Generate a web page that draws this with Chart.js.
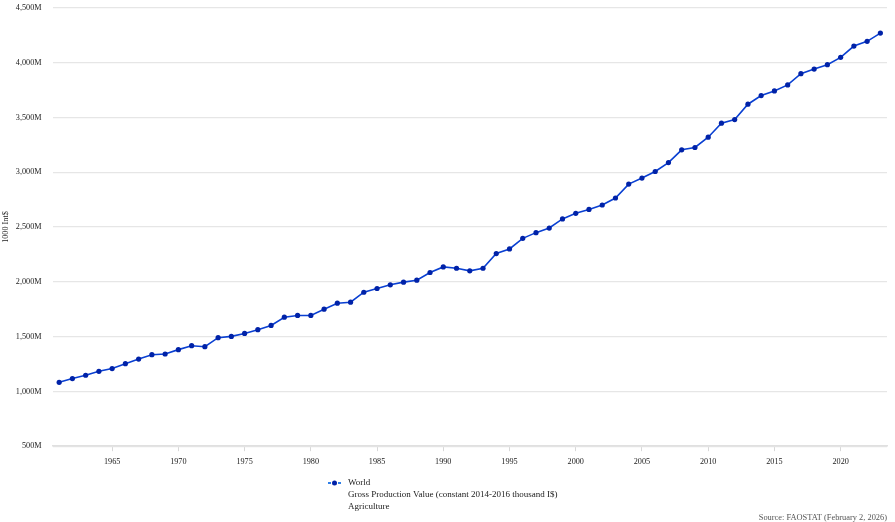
<!DOCTYPE html>
<html>
<head>
<meta charset="utf-8">
<title>Gross Production Value - World</title>
<script src="https://cdn.jsdelivr.net/npm/chart.js@4.4.1/dist/chart.umd.min.js"></script>
<style>
  html, body { margin: 0; padding: 0; background: #fff; }
  #wrap { width: 895px; height: 522px; position: relative; }
</style>
</head>
<body>
<div id="wrap"><canvas id="gpv-chart"></canvas></div>
<script>
// Gross Production Value (constant 2014-2016 thousand I$), World, Agriculture
// valeurs en millions (axe "1000 Int$")

const years = [
  1961, 1962, 1963, 1964, 1965, 1966, 1967, 1968, 1969, 1970,
  1971, 1972, 1973, 1974, 1975, 1976, 1977, 1978, 1979, 1980,
  1981, 1982, 1983, 1984, 1985, 1986, 1987, 1988, 1989, 1990,
  1991, 1992, 1993, 1994, 1995, 1996, 1997, 1998, 1999, 2000,
  2001, 2002, 2003, 2004, 2005, 2006, 2007, 2008, 2009, 2010,
  2011, 2012, 2013, 2014, 2015, 2016, 2017, 2018, 2019, 2020,
  2021, 2022, 2023
];

const worldValues = [
  1083, 1117, 1147, 1183, 1208, 1253, 1295, 1335, 1341, 1381,
  1417, 1408, 1490, 1502, 1529, 1563, 1602, 1677, 1693, 1693,
  1750, 1805, 1814, 1905, 1939, 1973, 1997, 2015, 2085, 2136,
  2124, 2100, 2124, 2258, 2300, 2397, 2449, 2491, 2574, 2625,
  2661, 2701, 2765, 2892, 2947, 3007, 3088, 3205, 3226, 3320,
  3448, 3481, 3621, 3700, 3742, 3797, 3900, 3942, 3982, 4049,
  4152, 4195, 4270
];

const xTickYears = [1965, 1970, 1975, 1980, 1985, 1990, 1995, 2000, 2005, 2010, 2015, 2020];
const yTickValues = [500, 1000, 1500, 2000, 2500, 3000, 3500, 4000, 4500];

const seriesName = 'World';
const legendLines = ['World', 'Gross Production Value (constant 2014-2016 thousand I$)', 'Agriculture'];
const sourceText = 'Source: FAOSTAT (February 2, 2026)';
const yTitle = '1000 Int$';

const FONT = '"Liberation Serif", "Times New Roman", serif';
const LINE_COLOR = '#0a40d2';
const POINT_COLOR = '#0022a8';

// legende + source dessinees sous le graphique
const legendPlugin = {
  id: 'faoLegend',
  afterDraw(chart) {
    const ctx = chart.ctx;
    ctx.save();
    // marqueur
    ctx.strokeStyle = '#2f7fe8';
    ctx.lineWidth = 2;
    ctx.setLineDash([3, 2]);
    ctx.beginPath();
    ctx.moveTo(328, 483);
    ctx.lineTo(341, 483);
    ctx.stroke();
    ctx.setLineDash([]);
    ctx.fillStyle = POINT_COLOR;
    ctx.beginPath();
    ctx.arc(334.5, 483, 2.5, 0, Math.PI * 2);
    ctx.fill();

    ctx.font = '9px ' + FONT;
    ctx.fillStyle = '#222';
    ctx.textAlign = 'left';
    ctx.textBaseline = 'middle';
    legendLines.forEach((line, i) => {
      ctx.fillText(line, 348, 483 + i * 11.7);
    });

    ctx.font = '8.4px ' + FONT;
    ctx.fillStyle = '#555';
    ctx.textAlign = 'right';
    ctx.fillText(sourceText, 887, 518);
    ctx.restore();
  }
};

const chart = new Chart(document.getElementById('gpv-chart'), {
  type: 'line',
  data: {
    datasets: [{
      label: seriesName,
      data: years.map((y, i) => ({ x: y, y: worldValues[i] })),
      borderColor: LINE_COLOR,
      backgroundColor: POINT_COLOR,
      borderWidth: 1.6,
      pointRadius: 2.6,
      pointBackgroundColor: POINT_COLOR,
      pointBorderColor: POINT_COLOR,
      pointBorderWidth: 0,
      tension: 0,
      fill: false
    }]
  },
  options: {
    responsive: true,
    maintainAspectRatio: false,
    animation: false,
    layout: {
      padding: { top: -3, right: 8, bottom: 49, left: 0 }
    },
    plugins: {
      legend: { display: false },
      tooltip: { enabled: false }
    },
    scales: {
      x: {
        type: 'linear',
        min: 1960.5,
        max: 2023.5,
        afterBuildTicks: (scale) => {
          scale.ticks = xTickYears.map(v => ({ value: v }));
        },
        grid: {
          drawOnChartArea: false,
          drawTicks: true,
          tickLength: 5,
          color: '#d8d8d8'
        },
        border: { color: '#e0e0e0', width: 1.5 },
        ticks: {
          padding: 6,
          color: '#222',
          font: { family: FONT, size: 8.2 },
          maxRotation: 0,
          callback: (v) => String(v)
        }
      },
      y: {
        min: 500,
        max: 4500,
        afterBuildTicks: (scale) => {
          scale.ticks = yTickValues.map(v => ({ value: v }));
        },
        grid: {
          drawTicks: true,
          tickLength: 8,
          tickColor: 'transparent',
          color: '#e6e6e6',
          lineWidth: 1.2
        },
        border: { display: false },
        title: {
          display: true,
          text: yTitle,
          color: '#222',
          font: { family: FONT, size: 8.2 },
          padding: { top: 1, bottom: 2 }
        },
        ticks: {
          padding: 3,
          color: '#222',
          font: { family: FONT, size: 8.2 },
          callback: (v) => v.toLocaleString('en-US') + 'M'
        }
      }
    }
  },
  plugins: [legendPlugin]
});
</script>
</body>
</html>
